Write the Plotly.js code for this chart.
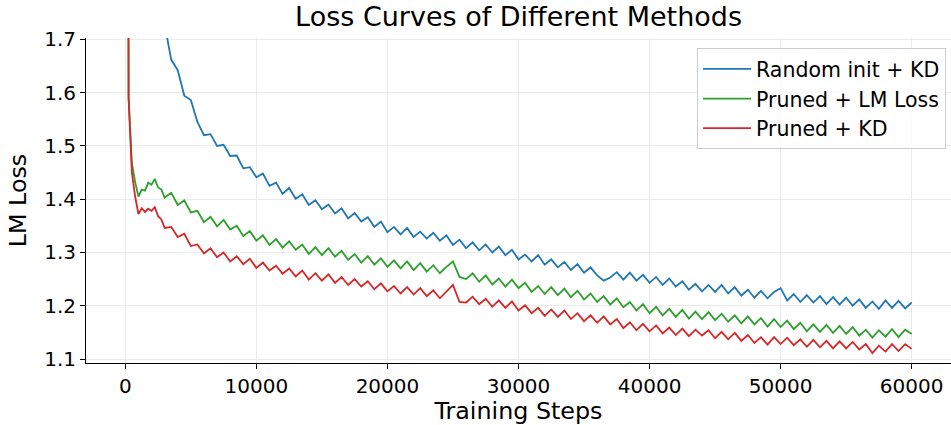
<!DOCTYPE html>
<html>
<head>
<meta charset="utf-8">
<script src="https://cdn.plot.ly/plotly-3.0.1.min.js"></script>
<style>
html,body{margin:0;padding:0;background:#fff;}
#chart{width:951px;height:425px;}
</style>
</head>
<body>
<div id="chart"></div>
<script>
// Training steps (shared x values)
const steps = [0,250,500,750,1000,1250,1500,1750,2000,2250,2500,2750,
3000,3500,4000,4500,5000,5500,6000,6500,7000,7500,8000,8500,9000,9500,
10000,10500,11000,11500,12000,12500,13000,13500,14000,14500,15000,15500,16000,16500,17000,17500,18000,18500,19000,19500,
20000,20500,21000,21500,22000,22500,23000,23500,24000,24500,25000,25500,26000,26500,27000,27500,28000,28500,29000,29500,
30000,30500,31000,31500,32000,32500,33000,33500,34000,34500,35000,35500,36000,36500,37000,37500,38000,38500,39000,39500,
40000,40500,41000,41500,42000,42500,43000,43500,44000,44500,45000,45500,46000,46500,47000,47500,48000,48500,49000,49500,
50000,50500,51000,51500,52000,52500,53000,53500,54000,54500,55000,55500,56000,56500,57000,57500,58000,58500,59000,59500,60000];

const randomInitKD = [6.0,3.2,2.7,2.45,2.3,2.2,2.1,2.02,1.95,1.88,1.82,1.77,
1.728,1.662,1.642,1.594,1.586,1.545,1.520,1.522,1.500,1.502,1.481,1.482,1.458,1.460,
1.441,1.448,1.425,1.431,1.410,1.421,1.401,1.409,1.389,1.398,1.381,1.390,1.373,1.383,1.364,1.374,1.358,1.366,1.348,1.358,
1.338,1.348,1.334,1.346,1.329,1.339,1.326,1.337,1.322,1.332,1.314,1.324,1.308,1.319,1.304,1.315,1.300,1.311,1.295,1.305,
1.287,1.296,1.283,1.295,1.277,1.287,1.272,1.282,1.267,1.278,1.262,1.272,1.257,1.247,1.253,1.263,1.249,1.262,1.247,1.258,
1.243,1.254,1.239,1.251,1.236,1.246,1.230,1.241,1.227,1.239,1.226,1.239,1.223,1.235,1.219,1.230,1.215,1.228,1.214,1.226,
1.233,1.210,1.222,1.207,1.220,1.206,1.218,1.203,1.216,1.202,1.215,1.200,1.212,1.196,1.208,1.194,1.210,1.196,1.209,1.195,1.206];

const prunedLM = [5.0,1.59,1.468,1.432,1.405,1.418,1.416,1.431,1.427,1.438,1.422,1.418,
1.403,1.412,1.389,1.398,1.375,1.378,1.357,1.367,1.349,1.361,1.343,1.350,1.331,1.340,
1.322,1.332,1.314,1.325,1.309,1.321,1.305,1.315,1.297,1.310,1.295,1.308,1.292,1.303,1.286,1.297,1.281,1.293,1.277,1.289,
1.273,1.285,1.270,1.283,1.267,1.280,1.264,1.276,1.261,1.273,1.283,1.254,1.250,1.261,1.245,1.257,1.240,1.251,1.236,1.249,
1.233,1.243,1.226,1.237,1.222,1.235,1.220,1.232,1.216,1.228,1.212,1.223,1.207,1.218,1.202,1.214,1.197,1.207,1.191,1.203,
1.186,1.198,1.182,1.194,1.179,1.192,1.176,1.189,1.175,1.188,1.173,1.185,1.170,1.182,1.167,1.180,1.165,1.177,1.161,1.175,
1.160,1.172,1.156,1.168,1.152,1.165,1.151,1.164,1.149,1.162,1.147,1.160,1.144,1.155,1.140,1.154,1.142,1.156,1.141,1.155,1.147];

const prunedKD = [5.0,1.59,1.45,1.405,1.372,1.383,1.376,1.382,1.378,1.385,1.368,1.362,
1.346,1.348,1.329,1.335,1.312,1.315,1.298,1.308,1.291,1.300,1.283,1.293,1.278,1.288,
1.271,1.281,1.266,1.275,1.260,1.270,1.255,1.266,1.249,1.261,1.247,1.259,1.243,1.254,1.239,1.250,1.236,1.246,1.231,1.242,
1.227,1.237,1.223,1.235,1.221,1.233,1.218,1.229,1.214,1.227,1.239,1.207,1.206,1.217,1.203,1.213,1.198,1.210,1.196,1.208,
1.191,1.201,1.186,1.196,1.181,1.193,1.179,1.191,1.175,1.186,1.171,1.182,1.168,1.180,1.165,1.175,1.158,1.169,1.154,1.166,
1.152,1.163,1.148,1.159,1.145,1.157,1.143,1.155,1.144,1.154,1.139,1.151,1.137,1.149,1.134,1.145,1.130,1.141,1.127,1.141,
1.128,1.140,1.126,1.137,1.123,1.136,1.122,1.134,1.120,1.133,1.120,1.132,1.118,1.128,1.111,1.125,1.114,1.128,1.115,1.128,1.119];

const seriesNames = ['Random init + KD', 'Pruned + LM Loss', 'Pruned + KD'];
const seriesColors = ['#1f77b4', '#2ca02c', '#d62728'];
const xTicks = [0, 10000, 20000, 30000, 40000, 50000, 60000];
const xTickLabels = ['0', '10000', '20000', '30000', '40000', '50000', '60000'];
const yTicks = [1.1, 1.2, 1.3, 1.4, 1.5, 1.6, 1.7];
const yTickLabels = ['1.1', '1.2', '1.3', '1.4', '1.5', '1.6', '1.7'];

const allSeries = [randomInitKD, prunedLM, prunedKD];
const traces = allSeries.map((ys, i) => ({
  x: steps, y: ys, type: 'scatter', mode: 'lines', name: seriesNames[i],
  line: {color: seriesColors[i], width: 1.8}
}));

const font = 'DejaVu Sans, Liberation Sans, sans-serif';
const layout = {
  width: 951, height: 425,
  margin: {l: 86, r: 0, t: 38, b: 62, pad: 0},
  paper_bgcolor: '#fff', plot_bgcolor: '#fff',
  font: {family: font, color: '#000', size: 20},
  title: {text: 'Loss Curves of Different Methods', font: {family: font, size: 27, color: '#000'},
          x: 0.5453, xanchor: 'center', yref: 'container', y: 0.96, yanchor: 'middle'},
  showlegend: true,
  legend: {x: 0.7064, xanchor: 'left', y: 0.969, yanchor: 'top',
           bgcolor: 'rgba(255,255,255,0.8)', bordercolor: '#cccccc', borderwidth: 1,
           font: {family: font, size: 20.5, color: '#000'}, itemwidth: 48, tracegroupgap: 0},
  xaxis: {range: [-3000, 63000], tickvals: xTicks, ticktext: xTickLabels,
          showgrid: true, gridcolor: '#ebebeb', gridwidth: 1, zeroline: false,
          showline: true, linecolor: '#000', linewidth: 1, mirror: false,
          ticks: 'outside', ticklen: 5, tickcolor: '#000', tickwidth: 1,
          tickfont: {family: font, size: 20, color: '#000'},
          title: {text: 'Training Steps', font: {family: font, size: 23.8, color: '#000'}, standoff: 4}},
  yaxis: {range: [1.0925, 1.7025], tickvals: yTicks, ticktext: yTickLabels,
          showgrid: true, gridcolor: '#ebebeb', gridwidth: 1, zeroline: false,
          showline: true, linecolor: '#000', linewidth: 1, mirror: false,
          ticks: 'outside', ticklen: 5, tickcolor: '#000', tickwidth: 1,
          tickfont: {family: font, size: 20, color: '#000'},
          title: {text: 'LM Loss', font: {family: font, size: 23.8, color: '#000'}, standoff: 10}}
};

Plotly.newPlot('chart', traces, layout, {displayModeBar: false, staticPlot: true});
</script>
</body>
</html>
